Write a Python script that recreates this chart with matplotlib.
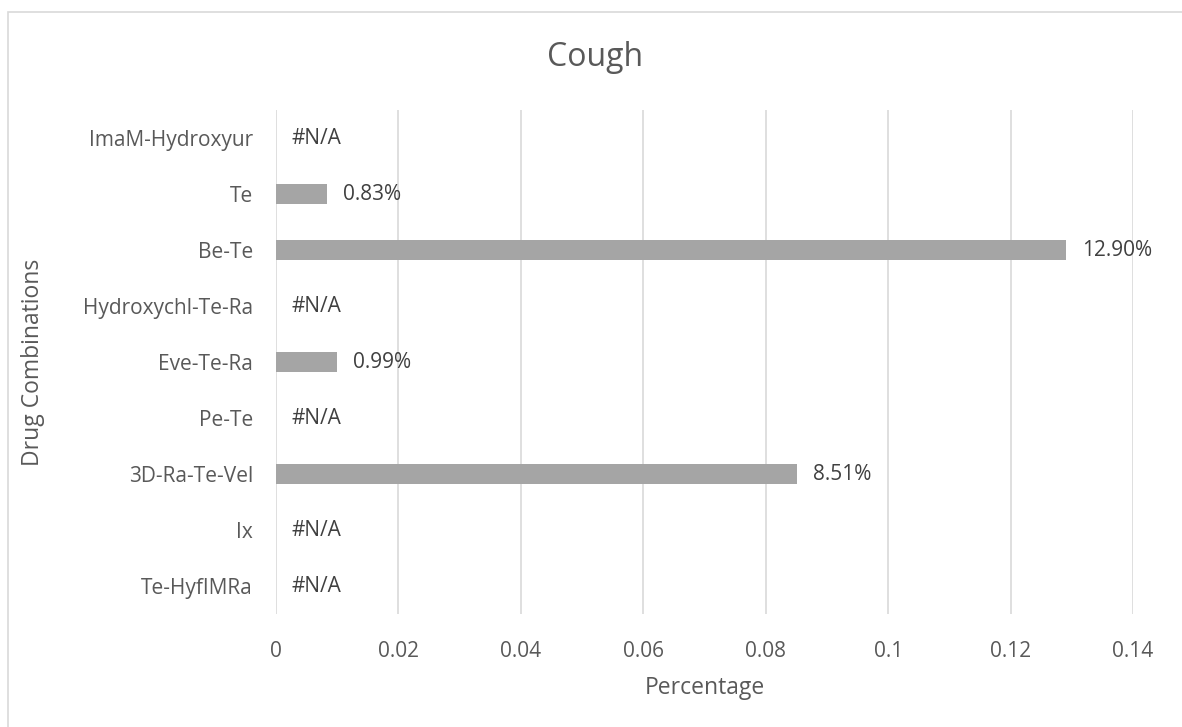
import matplotlib
matplotlib.use("Agg")
import matplotlib.pyplot as plt
from matplotlib.patches import Rectangle
import numpy as np

categories = ["Te-HyfIMRa", "Ix", "3D-Ra-Te-Vel", "Pe-Te", "Eve-Te-Ra",
              "Hydroxychl-Te-Ra", "Be-Te", "Te", "ImaM-Hydroxyur"]
values = [None, None, 0.0851, None, 0.0099, None, 0.1290, 0.0083, None]
xticks = [0, 0.02, 0.04, 0.06, 0.08, 0.1, 0.12, 0.14]
xtick_labels = ["0", "0.02", "0.04", "0.06", "0.08", "0.1", "0.12", "0.14"]

plt.rcParams["font.family"] = ["Open Sans", "DejaVu Sans"]

fig = plt.figure(figsize=(11.82, 7.27), dpi=100)
ax = fig.add_axes([276/1182, 1 - 614/727, (1133 - 276)/1182, (614 - 110)/727])

# Chart frame
fig.patches.append(Rectangle((8/1182, -0.05), 1.2, 1 - 12/727 + 0.05,
                             transform=fig.transFigure, fill=False,
                             edgecolor="#D9D9D9", linewidth=1.2))

y = np.arange(len(categories))
bar_vals = [v if v is not None else 0 for v in values]
ax.barh(y, bar_vals, height=0.37, color="#A5A5A5", zorder=3)

for yi, v in zip(y, values):
    if v is None:
        ax.annotate("#N/A", (0, yi), xytext=(11.5, 0), textcoords="offset points",
                    va="center", ha="left", fontsize=15, color="#404040")
    else:
        ax.annotate(f"{v*100:.2f}%", (v, yi), xytext=(11.5, 0), textcoords="offset points",
                    va="center", ha="left", fontsize=15, color="#404040")

ax.set_xlim(0, 0.14)
ax.set_ylim(-0.5, len(categories) - 0.5)
ax.set_xticks(xticks)
ax.set_xticklabels(xtick_labels)
ax.set_yticks(y)
ax.set_yticklabels(categories)
ax.tick_params(axis="both", length=0, labelsize=15, labelcolor="#595959")
ax.tick_params(axis="x", pad=19.5)
ax.tick_params(axis="y", pad=16.5)
ax.grid(axis="x", color="#D9D9D9", linewidth=1.2, zorder=0)
for s in ax.spines.values():
    s.set_visible(False)

ax.set_xlabel("Percentage", fontsize=16.5, color="#595959", labelpad=10)
ax.set_ylabel("Drug Combinations", fontsize=16.5, color="#595959",
              va="center")
ax.yaxis.set_label_coords(33/1182, 1 - 362/727, transform=fig.transFigure)
fig.text(595/1182, 1 - 57/727, "Cough", ha="center", va="center",
         fontsize=23, color="#595959")

fig.savefig("out.png", dpi=100)
